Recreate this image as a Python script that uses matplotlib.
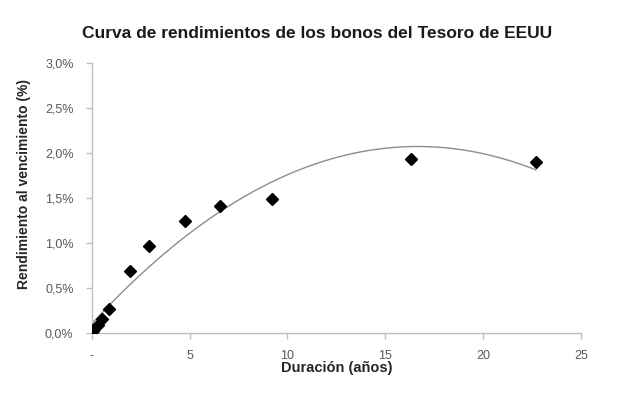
import numpy as np
import matplotlib
matplotlib.use('Agg')
import matplotlib.pyplot as plt
from matplotlib.ticker import FuncFormatter

# duration (years) and yield to maturity (%)
duracion = [0.05, 0.1, 0.34, 0.51, 0.9, 1.95, 2.95, 4.77, 6.55, 9.19, 16.3, 22.7]
rendimiento = [0.02, 0.04, 0.09, 0.16, 0.27, 0.69, 0.97, 1.24, 1.41, 1.49, 1.93, 1.90]
xticks = [0, 5, 10, 15, 20, 25]
yticks = [0.0, 0.5, 1.0, 1.5, 2.0, 2.5, 3.0]

plt.rcParams['font.family'] = ['Liberation Sans', 'DejaVu Sans']
grey = '#595959'
axcol = '#bfbfbf'

fig = plt.figure(figsize=(6.17, 3.97), dpi=100)
ax = fig.add_axes([0.1485, 0.161, 0.7932, 0.68])

# polynomial (order 2) trend line like excel
x = np.array(duracion)
y = np.array(rendimiento)
c = np.polyfit(x, y, 2)
xx = np.linspace(x.min(), x.max(), 200)
ax.plot(xx, np.polyval(c, xx), color='#8c8c8c', lw=1.0, zorder=2)
ax.plot(x, y, 'D', color='black', markersize=6, zorder=3)

ax.set_xlim(0, 25)
ax.set_ylim(0, 3.0)
ax.set_xticks(xticks)
ax.set_yticks(yticks)
ax.xaxis.set_major_formatter(FuncFormatter(lambda v, p: '-' if v == 0 else '%d' % v))
ax.yaxis.set_major_formatter(FuncFormatter(lambda v, p: ('%.1f%%' % v).replace('.', ',')))

for s in ['top', 'right']:
    ax.spines[s].set_visible(False)
for s in ['left', 'bottom']:
    ax.spines[s].set_color(axcol)
    ax.spines[s].set_linewidth(1.0)
ax.tick_params(axis='both', colors=axcol, labelcolor=grey, labelsize=9, length=4, width=1)
ax.tick_params(axis='y', pad=9)
ax.tick_params(axis='x', pad=8)

fig.text(0.514, 0.916, 'Curva de rendimientos de los bonos del Tesoro de EEUU',
         ha='center', va='center', fontsize=12.5, fontweight='bold', color='#1a1a1a')
fig.text(0.546, 0.073, 'Duración (años)', ha='center', va='center',
         fontsize=10.5, fontweight='bold', color='#262626')
fig.text(0.039, 1 - 184 / 397, 'Rendimiento al vencimiento (%)', ha='center', va='center',
         rotation=90, fontsize=10, fontweight='bold', color='#262626')

fig.savefig('out.png', dpi=100)
